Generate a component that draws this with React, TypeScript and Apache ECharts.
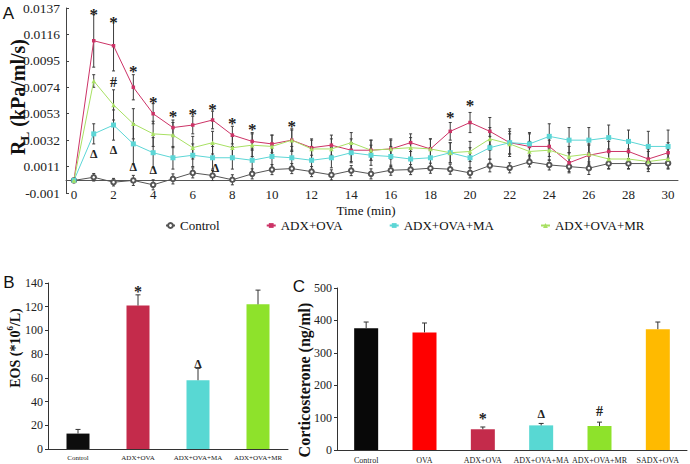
import React, { useEffect, useRef } from "react";
import * as echarts from "echarts";

const FONT = '"Liberation Serif", "Times New Roman", serif';
const SANS = '"Liberation Sans", Arial, sans-serif';

// ---------- Panel A: lung resistance over time ----------
const minutes = [0, 1, 2, 3, 4, 5, 6, 7, 8, 9, 10, 11, 12, 13, 14, 15, 16, 17, 18, 19, 20, 21, 22, 23, 24, 25, 26, 27, 28, 29, 30];
const rlTicks = [-0.001, 0.0011, 0.0032, 0.0053, 0.0074, 0.0095, 0.0116, 0.0137];
const timeTicks = [0, 2, 4, 6, 8, 10, 12, 14, 16, 18, 20, 22, 24, 26, 28, 30];
const seriesNames = ["Control", "ADX+OVA", "ADX+OVA+MA", "ADX+OVA+MR"];

const controlRL = [0, 0.00025, -0.00014, 0.0, -0.00035, 0.00012, 0.0006, 0.00039, 0.00005, 0.00052, 0.00086, 0.00094, 0.0007, 0.00044, 0.00078, 0.00052, 0.00081, 0.00086, 0.00097, 0.00089, 0.0006, 0.00118, 0.001, 0.00147, 0.00123, 0.0011, 0.00097, 0.00134, 0.00134, 0.00134, 0.00137];
const adxOvaRL = [0, 0.0111, 0.0107, 0.0074, 0.0053, 0.0042, 0.0044, 0.0048, 0.0036, 0.0031, 0.0029, 0.0032, 0.0026, 0.0028, 0.0024, 0.0024, 0.0025, 0.003, 0.0025, 0.0039, 0.0046, 0.0039, 0.003, 0.0027, 0.0027, 0.0014, 0.002, 0.0023, 0.0023, 0.0017, 0.0022];
const adxOvaMaRL = [0, 0.0037, 0.0044, 0.0029, 0.0022, 0.0018, 0.002, 0.0018, 0.0018, 0.0016, 0.0019, 0.0018, 0.0016, 0.0018, 0.0022, 0.002, 0.0019, 0.0017, 0.0018, 0.0022, 0.0018, 0.0026, 0.003, 0.0029, 0.0035, 0.0032, 0.0032, 0.0034, 0.0031, 0.0027, 0.0027];
const adxOvaMrRL = [0, 0.0079, 0.006, 0.0045, 0.0037, 0.0036, 0.0026, 0.003, 0.0026, 0.0028, 0.0027, 0.0032, 0.0025, 0.0025, 0.003, 0.0024, 0.0025, 0.0026, 0.0025, 0.0022, 0.0023, 0.0033, 0.0029, 0.0023, 0.0024, 0.0019, 0.0021, 0.0017, 0.0017, 0.0015, 0.0017];

const controlErr = [0, 0.0003, 0.0003, 0.0004, 0.0004, 0.0004, 0.0004, 0.0004, 0.0004, 0.0004, 0.0004, 0.0004, 0.0004, 0.0004, 0.0004, 0.0004, 0.0004, 0.0004, 0.0004, 0.0004, 0.0004, 0.0005, 0.0004, 0.0004, 0.0004, 0.0004, 0.0005, 0.0004, 0.0004, 0.0004, 0.0004];
const adxOvaErr = [0, 0.0021, 0.002, 0.001, 0.0008, 0.0006, 0.0007, 0.0007, 0.0007, 0.0007, 0.0007, 0.0008, 0.0006, 0.0008, 0.0009, 0.0008, 0.0007, 0.0007, 0.0008, 0.0007, 0.0008, 0.0011, 0.0011, 0.001, 0.0008, 0.0008, 0.0008, 0.0008, 0.0008, 0.0008, 0.0008];
const adxOvaMaErr = [0, 0.0008, 0.0012, 0.0016, 0.0012, 0.0009, 0.0009, 0.0009, 0.0009, 0.0009, 0.0009, 0.0009, 0.0008, 0.0008, 0.0008, 0.0008, 0.0008, 0.0008, 0.0008, 0.0008, 0.0008, 0.0009, 0.0009, 0.0009, 0.001, 0.001, 0.001, 0.001, 0.0009, 0.0012, 0.0013];
const adxOvaMrErr = [0, 0.0005, 0.0012, 0.0012, 0.001, 0.001, 0.0009, 0.0009, 0.0009, 0.0009, 0.0009, 0.0009, 0.0008, 0.0008, 0.0008, 0.0008, 0.0008, 0.0008, 0.0008, 0.0008, 0.0008, 0.0009, 0.0008, 0.0008, 0.0008, 0.0008, 0.0008, 0.0008, 0.0008, 0.0008, 0.0008];

// significance marks in panel A (minute, level, symbol)
const marksAMinutes = [1, 2, 3, 4, 5, 6, 7, 8, 9, 11, 19, 20, 2, 1, 2, 3, 4, 7.15];
const marksALevels = [0.0134, 0.01275, 0.0089, 0.0064, 0.0053, 0.0055, 0.0059, 0.0048, 0.0043, 0.0045, 0.0052, 0.0062, 0.0078, 0.0021, 0.0024, 0.0011, 0.0008, 0.001];
const marksAText = ["*", "*", "*", "*", "*", "*", "*", "*", "*", "*", "*", "*", "#", "Δ", "Δ", "Δ", "Δ", "Δ"];

// ---------- Panel B: EOS ----------
const eosGroups = ["Control", "ADX+OVA", "ADX+OVA+MA", "ADX+OVA+MR"];
const eosValues = [13, 121, 58, 122];
const eosErr = [3.5, 9, 10, 12];
const marksBIndex = [1, 2];
const marksBLevels = [135, 72];
const marksBText = ["*", "Δ"];

// ---------- Panel C: Corticosterone ----------
const cortGroups = ["Control", "OVA", "ADX+OVA", "ADX+OVA+MA", "ADX+OVA+MR", "SADX+OVA"];
const cortValues = [376, 363, 64, 76, 74, 373];
const cortErr = [19, 29, 7, 6, 12, 22];
const marksCIndex = [2, 3, 4];
const marksCLevels = [105, 111, 118];
const marksCText = ["*", "Δ", "#"];

// styles
const lineColors = ["#555555", "#cc3366", "#5cd6d6", "#a8e063"];
const eosColors = ["#0d0d0d", "#c42b4b", "#58d8d3", "#8ee22b"];
const cortColors = ["#080808", "#ff0000", "#c42b4b", "#58d8d3", "#8ee22b", "#ffba00"];

function errRender(cap: number, color: string, upperOnly: boolean) {
  return (params: any, api: any) => {
    const x = api.value(0);
    const lo = api.value(1);
    const hi = api.value(2);
    if (hi === lo) return { type: "group", children: [] };
    const a = api.coord([x, lo]);
    const b = api.coord([x, hi]);
    const style = { stroke: color, lineWidth: 1 };
    const children: any[] = [
      { type: "line", shape: { x1: a[0], y1: a[1], x2: b[0], y2: b[1] }, style },
      { type: "line", shape: { x1: b[0] - cap, y1: b[1], x2: b[0] + cap, y2: b[1] }, style },
    ];
    if (!upperOnly) {
      children.push({ type: "line", shape: { x1: a[0] - cap, y1: a[1], x2: a[0] + cap, y2: a[1] }, style });
    }
    return { type: "group", children };
  };
}

function markRender(texts: string[], starSize: number) {
  return (params: any, api: any) => {
    const p = api.coord([api.value(0), api.value(1)]);
    const t = texts[params.dataIndex];
    const fs = t === "*" ? starSize : t === "#" ? 14 : 12;
    return {
      type: "text",
      x: p[0],
      y: p[1] + (t === "*" ? 3 : 0),
      style: {
        text: t,
        fill: "#222",
        font: `bold ${fs}px ${FONT}`,
        align: "center",
        verticalAlign: "middle",
        textAlign: "center",
        textVerticalAlign: "middle",
      },
    };
  };
}

const rlSets = [
  { vals: controlRL, errs: controlErr, symbol: "emptyCircle", size: 4.5 },
  { vals: adxOvaRL, errs: adxOvaErr, symbol: "rect", size: 3.5 },
  { vals: adxOvaMaRL, errs: adxOvaMaErr, symbol: "rect", size: 5 },
  { vals: adxOvaMrRL, errs: adxOvaMrErr, symbol: "triangle", size: 4.5 },
];

function buildOption(): any {
  const series: any[] = [];
  rlSets.forEach((s) => {
    series.push({
      type: "custom",
      xAxisIndex: 0,
      yAxisIndex: 0,
      renderItem: errRender(1.5, "#3c3c3c", false),
      encode: { x: 0, y: [1, 2] },
      data: s.vals.map((v, i) => [minutes[i], v - s.errs[i], v + s.errs[i]]),
      z: 2,
      silent: true,
    });
  });
  rlSets.forEach((s, k) => {
    series.push({
      name: seriesNames[k],
      type: "line",
      xAxisIndex: 0,
      yAxisIndex: 0,
      data: s.vals.map((v, i) => [minutes[i], v]),
      symbol: s.symbol,
      symbolSize: s.size,
      showAllSymbol: true,
      lineStyle: { color: lineColors[k], width: 1 },
      itemStyle: { color: lineColors[k], borderColor: lineColors[k], borderWidth: k === 0 ? 1 : 0 },
      z: 3,
    });
  });
  series.push({
    type: "custom",
    xAxisIndex: 0,
    yAxisIndex: 0,
    renderItem: markRender(marksAText, 17),
    encode: { x: 0, y: 1 },
    data: marksAMinutes.map((m, i) => [m, marksALevels[i]]),
    z: 4,
    silent: true,
  });

  // Panel B
  series.push({
    type: "bar",
    xAxisIndex: 1,
    yAxisIndex: 1,
    barWidth: 23,
    data: eosValues.map((v, i) => ({ value: v, itemStyle: { color: eosColors[i] } })),
  });
  series.push({
    type: "custom",
    xAxisIndex: 1,
    yAxisIndex: 1,
    renderItem: errRender(2.5, "#333", true),
    encode: { x: 0, y: [1, 2] },
    data: eosValues.map((v, i) => [i, v, v + eosErr[i]]),
    z: 3,
    silent: true,
  });
  series.push({
    type: "custom",
    xAxisIndex: 1,
    yAxisIndex: 1,
    renderItem: markRender(marksBText, 16),
    encode: { x: 0, y: 1 },
    data: marksBIndex.map((c, i) => [c, marksBLevels[i]]),
    z: 4,
    silent: true,
  });

  // Panel C
  series.push({
    type: "bar",
    xAxisIndex: 2,
    yAxisIndex: 2,
    barWidth: 24,
    data: cortValues.map((v, i) => ({ value: v, itemStyle: { color: cortColors[i] } })),
  });
  series.push({
    type: "custom",
    xAxisIndex: 2,
    yAxisIndex: 2,
    renderItem: errRender(2.5, "#333", true),
    encode: { x: 0, y: [1, 2] },
    data: cortValues.map((v, i) => [i, v, v + cortErr[i]]),
    z: 3,
    silent: true,
  });
  series.push({
    type: "custom",
    xAxisIndex: 2,
    yAxisIndex: 2,
    renderItem: markRender(marksCText, 16),
    encode: { x: 0, y: 1 },
    data: marksCIndex.map((c, i) => [c, marksCLevels[i]]),
    z: 4,
    silent: true,
  });

  const axisColor = "#333";
  const labelBase = { fontFamily: FONT, color: "#222" };

  return {
    animation: false,
    backgroundColor: "#ffffff",
    textStyle: { fontFamily: FONT },
    grid: [
      { left: 66, top: 8, width: 612, height: 185 },
      { left: 48, top: 283, width: 240, height: 166 },
      { left: 337, top: 288, width: 350, height: 162 },
    ],
    legend: {
      data: seriesNames,
      left: 160,
      top: 214,
      itemGap: 46,
      itemWidth: 9,
      itemHeight: 6,
      textStyle: { fontFamily: FONT, fontSize: 13, color: "#111" },
    },
    xAxis: [
      {
        gridIndex: 0,
        type: "value",
        min: -0.4,
        max: 30.5,
        axisLine: { show: true, onZero: true, lineStyle: { color: "#555" } },
        axisTick: { show: false },
        splitLine: { show: false },
        axisLabel: { ...labelBase, fontSize: 13, margin: -5, customValues: timeTicks },
      },
      {
        gridIndex: 1,
        type: "category",
        data: eosGroups,
        axisLine: { lineStyle: { color: axisColor } },
        axisTick: { show: false },
        axisLabel: { ...labelBase, fontSize: 7, interval: 0, margin: 5 },
      },
      {
        gridIndex: 2,
        type: "category",
        data: cortGroups,
        axisLine: { lineStyle: { color: axisColor } },
        axisTick: { show: false },
        axisLabel: { ...labelBase, fontSize: 8, interval: 0, margin: 6 },
      },
    ],
    yAxis: [
      {
        gridIndex: 0,
        type: "value",
        min: -0.001,
        max: 0.0137,
        axisLine: { show: true, onZero: false, lineStyle: { color: "#444" } },
        axisTick: { show: true, inside: true, length: 3, customValues: rlTicks, lineStyle: { color: "#444" } },
        splitLine: { show: false },
        axisLabel: {
          ...labelBase,
          fontSize: 13.5,
          margin: 6,
          customValues: rlTicks,
          formatter: (v: number) => (v < 0 ? "-0.001" : v.toFixed(4)),
        },
      },
      {
        gridIndex: 1,
        type: "value",
        min: 0,
        max: 140,
        interval: 20,
        axisLine: { show: true, lineStyle: { color: axisColor } },
        axisTick: { show: true, length: 3, lineStyle: { color: axisColor } },
        splitLine: { show: false },
        axisLabel: { ...labelBase, fontSize: 12, margin: 5 },
      },
      {
        gridIndex: 2,
        type: "value",
        min: 0,
        max: 500,
        interval: 100,
        axisLine: { show: true, lineStyle: { color: axisColor } },
        axisTick: { show: true, length: 3, lineStyle: { color: axisColor } },
        splitLine: { show: false },
        axisLabel: { ...labelBase, fontSize: 12, margin: 5 },
      },
    ],
    graphic: [
      { type: "text", x: 8.5, y: 13, style: { text: "A", font: `17px ${SANS}`, fill: "#111", align: "center", verticalAlign: "middle" } },
      { type: "text", x: 9, y: 282.5, style: { text: "B", font: `17px ${SANS}`, fill: "#111", align: "center", verticalAlign: "middle" } },
      { type: "text", x: 299, y: 286.5, style: { text: "C", font: `17px ${SANS}`, fill: "#111", align: "center", verticalAlign: "middle" } },
      { type: "text", x: 366, y: 210, style: { text: "Time (min)", font: `13px ${FONT}`, fill: "#111", align: "center", verticalAlign: "middle" } },
      {
        type: "text",
        x: 18,
        y: 97,
        rotation: Math.PI / 2,
        style: {
          text: "{r|R}{s|L}{r| (kPa/ml/s)}",
          align: "center",
          verticalAlign: "middle",
          fill: "#111",
          rich: {
            r: { fontFamily: FONT, fontWeight: "bold", fontSize: 20, lineHeight: 26, fill: "#111" },
            s: { fontFamily: FONT, fontWeight: "bold", fontSize: 13, lineHeight: 26, verticalAlign: "bottom", fill: "#111" },
          },
        },
      },
      {
        type: "text",
        x: 15,
        y: 348,
        rotation: Math.PI / 2,
        style: {
          text: "{m|EOS (*10}{p|6}{m|/L)}",
          align: "center",
          verticalAlign: "middle",
          fill: "#111",
          rich: {
            m: { fontFamily: FONT, fontWeight: "bold", fontSize: 14, lineHeight: 20, fill: "#111" },
            p: { fontFamily: FONT, fontWeight: "bold", fontSize: 9, lineHeight: 20, verticalAlign: "top", fill: "#111" },
          },
        },
      },
      {
        type: "text",
        x: 304,
        y: 380,
        rotation: Math.PI / 2,
        style: { text: "Corticosterone (ng/ml)", font: `bold 16px ${FONT}`, fill: "#111", align: "center", verticalAlign: "middle" },
      },
    ],
    series,
  };
}

export default function App() {
  const ref = useRef<HTMLDivElement>(null);
  useEffect(() => {
    const chart = echarts.init(ref.current as HTMLDivElement, null, { renderer: "svg" });
    chart.setOption(buildOption());
    return () => chart.dispose();
  }, []);
  return <div ref={ref} style={{ position: "fixed", left: 0, top: 0, width: 690, height: 464 }} />;
}
